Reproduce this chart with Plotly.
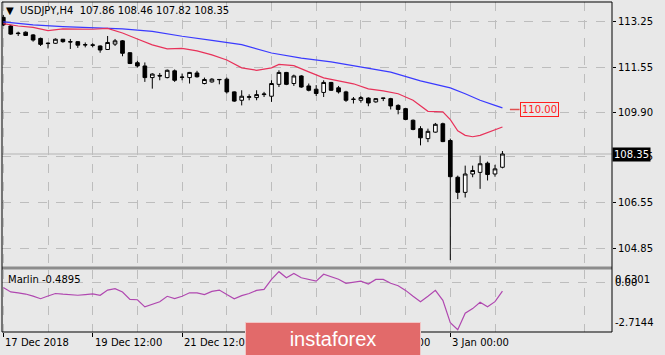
import plotly.graph_objects as go

# ---------------- data ----------------
bar_idx = list(range(68))
opens = [113.41,113.09,112.83,112.86,112.76,112.63,112.44,112.45,112.60,112.51,
         112.51,112.40,112.39,112.35,112.22,112.42,112.54,112.10,111.73,111.61,
         111.18,111.26,111.18,111.43,111.20,111.18,111.35,110.96,111.02,111.10,
         111.12,110.65,110.34,110.45,110.44,110.55,110.49,110.93,111.37,110.96,
         111.24,110.87,110.75,110.63,111.00,110.80,110.65,110.37,110.34,110.42,
         110.28,110.41,110.40,110.15,110.03,109.60,109.29,108.92,109.16,109.47,
         108.85,107.49,106.93,107.61,107.67,108.01,107.61,107.86]
highs = [113.50,113.13,112.88,112.89,112.79,112.66,112.48,112.63,112.61,112.61,
         112.53,112.48,112.45,112.37,112.72,112.61,112.57,112.12,111.80,111.74,
         111.34,111.35,111.48,111.48,111.33,111.39,111.43,111.18,111.16,111.11,
         111.18,110.67,110.71,110.56,110.71,110.65,111.08,111.45,111.39,111.29,
         111.27,110.96,110.90,111.08,111.02,110.87,110.69,110.46,110.50,110.45,
         110.42,110.43,110.43,110.19,110.06,109.63,109.38,109.29,109.50,109.51,
         108.92,107.55,107.92,107.92,108.29,108.07,107.95,108.46]
lows = [113.09,112.76,112.72,112.72,112.51,112.35,112.26,112.43,112.47,112.24,
        112.28,112.30,112.30,112.10,112.20,112.35,111.97,111.68,111.55,111.02,
        110.77,111.08,111.15,111.02,111.08,110.96,111.18,110.93,110.99,110.93,
        110.59,110.28,110.15,110.34,110.34,110.46,110.28,110.83,110.90,110.87,
        110.80,110.67,110.50,110.46,110.69,110.59,110.28,110.22,110.25,110.12,
        110.25,110.31,110.00,109.82,109.60,109.23,108.67,108.79,109.14,108.79,
        104.42,106.68,106.74,107.49,107.06,107.37,107.51,107.82]
closes = [113.13,112.79,112.81,112.74,112.57,112.41,112.45,112.60,112.51,112.50,
          112.38,112.39,112.38,112.20,112.48,112.54,112.08,111.70,111.61,111.18,
          111.31,111.24,111.45,111.08,111.19,111.37,111.21,111.11,111.12,111.11,
          110.65,110.31,110.49,110.47,110.55,110.57,110.96,111.37,110.93,111.24,
          110.83,110.71,110.59,111.00,110.71,110.65,110.34,110.38,110.44,110.24,
          110.40,110.42,110.13,110.00,109.63,109.26,108.95,109.19,109.45,108.81,
          107.51,106.93,107.61,107.74,107.99,107.59,107.80,108.35]

blue_idx = [0,4,8,12,16,20,24,28,32,36,40,44,48,52,56,60,62,64,66,67]
blue_ma = [113.24,113.13,113.07,113.02,112.98,112.89,112.71,112.56,112.40,112.09,
           111.90,111.76,111.58,111.38,111.06,110.80,110.58,110.34,110.15,110.06]

red_idx = [0,2,4,6,8,10,12,14,16,18,20,22,24,26,28,30,32,34,36,37,39,41,43,45,
           47,49,51,53,55,57,59,60,61,62,63,64,65,66,67]
red_ma = [113.18,113.09,113.04,112.92,112.98,112.98,112.97,113.00,112.83,112.61,
          112.39,112.24,112.26,112.17,112.02,111.83,111.54,111.45,111.54,111.67,
          111.62,111.39,111.17,111.06,110.95,110.76,110.69,110.58,110.34,109.93,
          109.91,109.62,109.21,109.04,108.99,109.04,109.14,109.23,109.35]

marlin = [-0.28,-0.54,-0.59,-0.66,-0.78,-0.93,-0.77,-0.63,-0.67,-0.69,
          -0.73,-0.69,-0.65,-0.73,-0.43,-0.35,-0.54,-0.97,-0.99,-1.40,
          -1.24,-1.11,-0.79,-0.92,-0.79,-0.59,-0.59,-0.69,-0.51,-0.43,
          -0.69,-0.93,-0.75,-0.63,-0.45,-0.39,0.19,0.6301,0.28,0.53,
          0.28,0.18,0.08,0.48,0.33,0.19,-0.04,0.02,0.08,-0.08,
          0.18,0.18,-0.04,-0.18,-0.45,-0.79,-1.10,-0.79,-0.45,-1.02,
          -2.31,-2.7144,-1.77,-1.50,-1.13,-1.40,-1.10,-0.4895]

price_ticks = [113.25, 111.55, 109.90, 108.25, 106.55, 104.85]
price_tick_text = ["113.25", "111.55", "109.90", "108.25", "106.55", "104.85"]
time_label_idx = [0, 12, 24, 36, 48, 60]
time_labels = ["17 Dec 2018", "19 Dec 12:00", "21 Dec 12:00", "27 Dec 00:00",
               "31 Dec 00:00", "3 Jan 00:00"]
grid_idx = [6, 18, 30, 42, 54, 66, 78]
last_price = 108.35
level_price = 110.00
marlin_max = 0.6301
marlin_min = -2.7144

# ---------------- styling ----------------
BG = "#e8e8e8"
FONT = "DejaVu Sans"
FS = 10
GRID = "#bdbdbd"

fig = go.Figure()

fig.add_trace(go.Candlestick(
    x=bar_idx, open=opens, high=highs, low=lows, close=closes,
    increasing=dict(line=dict(color="black", width=1), fillcolor="white"),
    decreasing=dict(line=dict(color="black", width=1), fillcolor="black"),
    whiskerwidth=0, xaxis="x", yaxis="y", showlegend=False, hoverinfo="skip"))

fig.add_trace(go.Scatter(x=blue_idx, y=blue_ma, mode="lines",
                         line=dict(color="#3a3aff", width=1.2),
                         xaxis="x", yaxis="y", showlegend=False))
fig.add_trace(go.Scatter(x=red_idx, y=red_ma, mode="lines",
                         line=dict(color="#e8325a", width=1.2),
                         xaxis="x", yaxis="y", showlegend=False))
fig.add_trace(go.Scatter(x=bar_idx, y=marlin, mode="lines",
                         line=dict(color="#b048b0", width=1.2),
                         xaxis="x", yaxis="y2", showlegend=False))

# geometry (pixels -> paper)
W, H = 665, 355
ml, mr, mt, mb = 2, 53, 2, 22.5
plot_h = H - mt - mb
def py(ypix):
    return (H - mb - ypix) / plot_h
def px(xpix):
    return (xpix - ml) / (W - ml - mr)

main_dom = [py(267), 1]
ind_dom = [0, py(270)]

bar_w = 7.45
x0 = -(3.3 - ml) / bar_w
x1 = x0 + (W - ml - mr) / bar_w

ppu = 27.05
ytop = 113.25 + (21.7 - 2) / ppu
ybot = 113.25 - (267 - 21.7) / ppu

fig.update_layout(
    width=W, height=H,
    margin=dict(l=ml, r=mr, t=mt, b=mb),
    paper_bgcolor=BG, plot_bgcolor=BG,
    font=dict(family=FONT, size=FS, color="black"),
    showlegend=False,
    xaxis=dict(range=[x0, x1], anchor="y2", domain=[0, 1],
               rangeslider=dict(visible=False),
               tickvals=time_label_idx, showticklabels=False,
               ticks="outside", ticklen=4, tickcolor="black",
               showgrid=True, gridcolor=GRID, griddash="dash", gridwidth=1,
               minor=dict(tickvals=grid_idx, showgrid=True, gridcolor=GRID,
                          griddash="dash", ticks=""),
               zeroline=False, showline=False, fixedrange=True),
    yaxis=dict(domain=main_dom, range=[ybot, ytop], side="right", anchor="x",
               tickvals=price_ticks, ticktext=price_tick_text,
               ticks="outside", ticklen=3, tickcolor="black",
               tickfont=dict(family=FONT, size=FS, color="black"),
               showgrid=True, gridcolor=GRID, griddash="dash",
               zeroline=False, showline=False),
    yaxis2=dict(domain=ind_dom, range=[-2.85, 0.75], side="right", anchor="x",
                tickvals=[0], showticklabels=False, ticks="",
                showgrid=True, gridcolor=GRID, griddash="dash",
                zeroline=False, showline=False),
)

shapes = []
shapes.append(dict(type="line", xref="paper", yref="y", x0=0, x1=1,
                   y0=last_price, y1=last_price,
                   line=dict(color="#b4b4b4", width=1), layer="below"))
shapes.append(dict(type="rect", xref="paper", yref="paper", x0=0, x1=1,
                   y0=py(270), y1=py(267), fillcolor="#8c8c8c",
                   line=dict(width=0), layer="above"))
shapes.append(dict(type="rect", xref="paper", yref="paper", x0=0, x1=1,
                   y0=0, y1=1, line=dict(color="black", width=1),
                   fillcolor="rgba(0,0,0,0)", layer="above"))
shapes.append(dict(type="line", xref="x", yref="y", x0=68.0, x1=69.3,
                   y0=level_price, y1=level_price,
                   line=dict(color="#e05050", width=1.5)))

annotations = []
annotations.append(dict(xref="paper", yref="paper", x=px(4), y=py(11),
                        xanchor="left", yanchor="middle", showarrow=False,
                        text="▼\u00a0\u00a0USDJPY,H4\u00a0\u00a0107.86 108.46 107.82 108.35",
                        font=dict(family=FONT, size=FS, color="black")))
for i, t in zip(time_label_idx, time_labels):
    annotations.append(dict(xref="x", yref="paper", x=i, y=py(343),
                            xanchor="left", yanchor="middle", xshift=0,
                            showarrow=False, text=t,
                            font=dict(family=FONT, size=FS, color="black")))
annotations.append(dict(xref="paper", yref="y", x=1, y=last_price,
                        xanchor="left", yanchor="middle", showarrow=False,
                        text="108.35", bgcolor="black", borderpad=1,
                        font=dict(family=FONT, size=FS, color="white")))
annotations.append(dict(xref="x", yref="y", x=69.3, y=level_price,
                        xanchor="left", yanchor="middle", showarrow=False,
                        text="110.00", bordercolor="#ff2020", borderwidth=1,
                        borderpad=1, bgcolor=BG,
                        font=dict(family=FONT, size=FS, color="#ff2020")))
annotations.append(dict(xref="paper", yref="paper", x=px(6), y=py(280),
                        xanchor="left", yanchor="middle", showarrow=False,
                        text="Marlin -0.4895",
                        font=dict(family=FONT, size=FS, color="black")))
annotations.append(dict(xref="paper", yref="y2", x=1, y=marlin_max,
                        xanchor="left", yanchor="top", showarrow=False,
                        text="0.6301", xshift=1,
                        font=dict(family=FONT, size=FS, color="black")))
annotations.append(dict(xref="paper", yref="y2", x=1, y=0,
                        xanchor="left", yanchor="middle", showarrow=False,
                        text="0.00", xshift=1,
                        font=dict(family=FONT, size=FS, color="black")))
annotations.append(dict(xref="paper", yref="y2", x=1, y=marlin_min,
                        xanchor="left", yanchor="bottom", showarrow=False,
                        text="-2.7144", xshift=1,
                        font=dict(family=FONT, size=FS, color="black")))
# watermark (drawn last so it covers the labels beneath it)
annotations.append(dict(xref="paper", yref="paper", x=px(245), y=py(322),
                        xanchor="left", yanchor="top", showarrow=False,
                        text="instaforex", width=174, height=32,
                        bgcolor="#e26a6a", bordercolor="#f2c6c6", borderwidth=1,
                        borderpad=0, align="center", valign="middle",
                        font=dict(family="Liberation Sans", size=20, color="white")))

fig.update_layout(shapes=shapes, annotations=annotations)
fig.write_html("out.html")
